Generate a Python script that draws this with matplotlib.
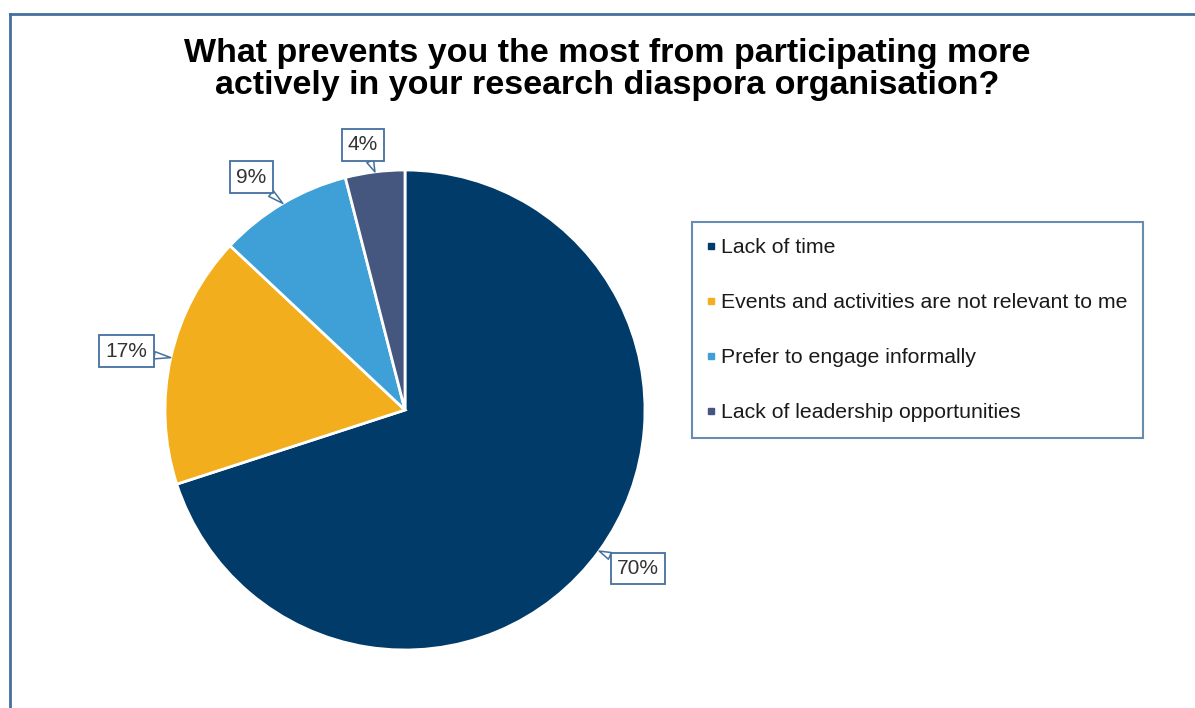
import matplotlib.pyplot as plt
from matplotlib.lines import Line2D
import numpy as np

plt.rcParams['font.family'] = ['Liberation Sans', 'DejaVu Sans']

# SURVEY ANSWERS
categories = ['Lack of time',
              'Events and activities are not relevant to me',
              'Prefer to engage informally',
              'Lack of leadership opportunities']
shares = [70, 17, 9, 4]
colors = ['#013B69', '#F2AE1C', '#3EA0D6', '#45567F']

title = ('What prevents you the most from participating more\n'
         'actively in your research diaspora organisation?')

# where each percentage callout sits (data coords of the pie axes)
label_xy = [(0.97, -0.66), (-1.16, 0.245), (-0.64, 0.97), (-0.175, 1.105)]

edge_blue = '#44709E'

fig = plt.figure(figsize=(11.95, 7.08), dpi=100)

# thin frame along the top and left of the canvas
fig.add_artist(Line2D([10/1195, 1], [1 - 14/708, 1 - 14/708], transform=fig.transFigure,
                      color=edge_blue, lw=2.0))
fig.add_artist(Line2D([10/1195, 10/1195], [0, 1 - 14/708], transform=fig.transFigure,
                      color=edge_blue, lw=2.0))

fig.text(0.508, 0.902, title, ha='center', va='center', fontsize=24.5,
         fontweight='bold', color='black', linespacing=1.07)

# PIE
ax = fig.add_axes([165/1195, 58/708, 480/1195, 480/708])
wedges, _ = ax.pie(shares, colors=colors, startangle=90, counterclock=False,
                   radius=1.0, wedgeprops=dict(edgecolor='white', linewidth=2))
ax.set_xlim(-1, 1)
ax.set_ylim(-1, 1)
ax.set_aspect('equal')
ax.axis('off')

# CALLOUT LABELS
for w, val, (tx, ty) in zip(wedges, shares, label_xy):
    mid = np.deg2rad((w.theta1 + w.theta2) / 2)
    tip = (np.cos(mid), np.sin(mid))
    ax.annotate(f'{val}%', xy=tip, xytext=(tx, ty), ha='center', va='center',
                fontsize=15, color='#333333', annotation_clip=False,
                bbox=dict(boxstyle='square,pad=0.3', fc='white', ec=edge_blue, lw=1.3),
                arrowprops=dict(arrowstyle='wedge,tail_width=0.35', fc='white',
                                ec=edge_blue, lw=1.1, shrinkA=0, shrinkB=0))

# LEGEND
handles = [Line2D([], [], marker='s', ls='', markersize=4, color=c) for c in colors]
leg = fig.legend(handles, categories, loc='upper left',
                 bbox_to_anchor=(692/1195, 1 - 222/708), fontsize=15.3,
                 labelspacing=1.7, handlelength=0.3, handletextpad=0.3,
                 borderpad=0.75, borderaxespad=0, frameon=True, fancybox=False)
leg.get_frame().set_edgecolor(edge_blue)
leg.get_frame().set_linewidth(1.5)
for t in leg.get_texts():
    t.set_color('#1A1A1A')

fig.savefig('out.png', dpi=100)
